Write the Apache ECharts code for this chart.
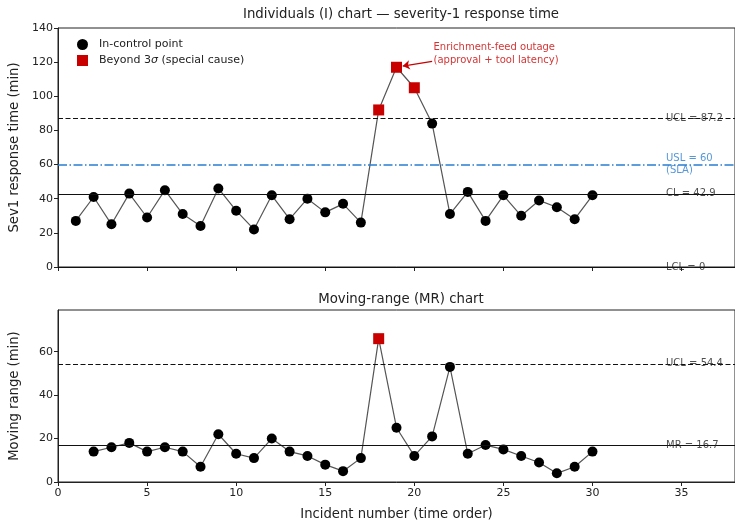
<!DOCTYPE html>
<html>
<head>
<meta charset="utf-8">
<script src="https://cdn.jsdelivr.net/npm/echarts@6/dist/echarts.min.js"></script>
<style>
  html, body { margin: 0; padding: 0; background: #fff; }
  #chart { width: 735px; height: 528px; }
</style>
</head>
<body>
<div id="chart"></div>
<script>
// Incident order and severity-1 response time (minutes)
const incidents = [1,2,3,4,5,6,7,8,9,10,11,12,13,14,15,16,17,18,19,20,21,22,23,24,25,26,27,28,29,30];
const responseTime = [27,41,25,43,29,45,31,24,46,33,22,42,28,40,32,37,26,92,117,105,84,31,44,27,42,30,39,35,28,42];
// Moving range between consecutive incidents (first incident has none)
const mrIncidents = [2,3,4,5,6,7,8,9,10,11,12,13,14,15,16,17,18,19,20,21,22,23,24,25,26,27,28,29,30];
const movingRange = [14,16,18,14,16,14,7,22,13,11,20,14,12,8,5,11,66,25,12,21,53,13,17,15,12,9,4,7,14];
// Points flagged as special cause
const specialI = [18,19,20];
const specialMR = [18];
// Control / spec limits
const iLimits = { UCL: 87.2, CL: 42.9, LCL: 0, USL: 60 };
const mrLimits = { UCL: 54.4, CL: 16.7 };
const xTicks = [0,5,10,15,20,25,30,35];
const iTicks = [0,20,40,60,80,100,120,140];
const mrTicks = [0,20,40,60];

const FONT = 'DejaVu Sans';
const RED = '#c80000';
const BLUE = '#2a7dd1';
const LINE_GRAY = '#555555';
const LABEL_X = 34.1;

const pairs = (xs, ys) => xs.map((x, i) => [x, ys[i]]);
const iPts = pairs(incidents, responseTime);
const mrPts = pairs(mrIncidents, movingRange);
const iIn = iPts.filter(p => !specialI.includes(p[0]));
const iOut = iPts.filter(p => specialI.includes(p[0]));
const mrIn = mrPts.filter(p => !specialMR.includes(p[0]));
const mrOut = mrPts.filter(p => specialMR.includes(p[0]));
const peak = iPts.reduce((a, b) => (b[1] > a[1] ? b : a));

const dashed = [5, 2.5];
const dashDot = [9, 2.5, 1.5, 2.5];

function hLine(y, color, type, width) {
  return { yAxis: y, lineStyle: { color: color, type: type, width: width } };
}

const axisText = { fontFamily: FONT, fontSize: 11, color: '#222' };
const nameText = { fontFamily: FONT, fontSize: 13.2, color: '#222' };
const SPECIAL = 'Beyond 3\u03c3 (special cause)';

const chart = echarts.init(document.getElementById('chart'), null, { renderer: 'canvas' });

chart.setOption({
  animation: false,
  backgroundColor: '#fff',
  title: [
    { text: 'Individuals (I) chart \u2014 severity-1 response time', left: 396, top: 3, textAlign: 'center',
      textStyle: { fontFamily: FONT, fontSize: 13.3, fontWeight: 'normal', color: '#222' } },
    { text: 'Moving-range (MR) chart', left: 396, top: 288, textAlign: 'center',
      textStyle: { fontFamily: FONT, fontSize: 13.3, fontWeight: 'normal', color: '#222' } }
  ],
  legend: {
    left: 72, top: 34, orient: 'vertical', itemGap: 5, itemWidth: 11, itemHeight: 11,
    data: [
      { name: 'In-control point', icon: 'circle' },
      { name: SPECIAL, icon: 'rect' }
    ],
    formatter: name => name === SPECIAL ? 'Beyond 3{i|\u03c3} (special cause)' : name,
    textStyle: {
      fontFamily: FONT, fontSize: 11, color: '#222', padding: [0, 0, 0, 6],
      rich: { i: { fontFamily: FONT, fontSize: 11, fontStyle: 'italic', color: '#222' } }
    }
  },
  grid: [
    { left: 58, top: 28, width: 678, height: 239, show: true, borderColor: '#222', borderWidth: 1 },
    { left: 58, top: 310, width: 678, height: 172, show: true, borderColor: '#222', borderWidth: 1 }
  ],
  xAxis: [0, 1].map(g => ({
    type: 'value', gridIndex: g, min: 0, max: 38, interval: 5,
    name: g === 1 ? 'Incident number (time order)' : '',
    nameLocation: 'middle', nameGap: 26,
    nameTextStyle: nameText,
    axisLine: { show: true, onZero: false, lineStyle: { color: '#222', width: 1 } },
    axisTick: { show: true, length: 4, customValues: xTicks, lineStyle: { color: '#222' } },
    axisLabel: Object.assign({ show: g === 1, margin: 6, customValues: xTicks }, axisText),
    splitLine: { show: false }
  })),
  yAxis: [
    {
      type: 'value', gridIndex: 0, min: 0, max: 140, interval: 20,
      name: 'Sev1 response time (min)', nameLocation: 'middle', nameGap: 37,
      nameTextStyle: nameText,
      axisLine: { show: true, lineStyle: { color: '#222' } },
      axisTick: { show: true, length: 4, customValues: iTicks, lineStyle: { color: '#222' } },
      axisLabel: Object.assign({ margin: 5, customValues: iTicks }, axisText),
      splitLine: { show: false }
    },
    {
      type: 'value', gridIndex: 1, min: 0, max: 79.2,
      name: 'Moving range (min)', nameLocation: 'middle', nameGap: 37,
      nameTextStyle: nameText,
      axisLine: { show: true, lineStyle: { color: '#222' } },
      axisTick: { show: true, length: 4, customValues: mrTicks, lineStyle: { color: '#222' } },
      axisLabel: Object.assign({ margin: 5, customValues: mrTicks }, axisText),
      splitLine: { show: false }
    }
  ],
  series: [
    // Individuals chart: connecting line plus limit lines
    {
      type: 'line', xAxisIndex: 0, yAxisIndex: 0, data: iPts, showSymbol: false, z: 2,
      lineStyle: { color: LINE_GRAY, width: 1.2 },
      markLine: {
        silent: true, symbol: 'none', label: { show: false }, animation: false,
        data: [
          hLine(iLimits.UCL, '#111', dashed, 1.2),
          hLine(iLimits.USL, BLUE, dashDot, 1.5),
          hLine(iLimits.CL, '#111', 'solid', 1.2),
          hLine(iLimits.LCL, '#111', 'solid', 1.2)
        ]
      }
    },
    // Annotation arrow toward the peak point
    {
      type: 'line', xAxisIndex: 0, yAxisIndex: 0, data: [], z: 6,
      markLine: {
        silent: true, symbol: ['none', 'arrow'], symbolSize: 7, label: { show: false }, animation: false,
        lineStyle: { color: RED, width: 1.2, type: 'solid' },
        data: [[{ coord: [peak[0] + 2.0, peak[1] + 3.5] }, { coord: [peak[0] + 0.35, peak[1] + 0.7] }]]
      }
    },
    {
      name: 'In-control point', type: 'scatter', xAxisIndex: 0, yAxisIndex: 0, data: iIn, z: 4,
      symbol: 'circle', symbolSize: 10, itemStyle: { color: '#000', opacity: 1 }
    },
    {
      name: SPECIAL, type: 'scatter', xAxisIndex: 0, yAxisIndex: 0, data: iOut, z: 5,
      symbol: 'rect', symbolSize: 11, itemStyle: { color: RED, opacity: 1 }
    },
    // Text labels for limits and the annotation
    {
      type: 'scatter', xAxisIndex: 0, yAxisIndex: 0, symbolSize: 1, z: 7, silent: true,
      itemStyle: { color: 'rgba(0,0,0,0)' },
      label: {
        show: true, position: 'right', distance: 0, align: 'left', verticalAlign: 'middle',
        fontFamily: FONT, fontSize: 10, color: '#222', lineHeight: 12,
        formatter: p => p.value[2]
      },
      data: [
        [LABEL_X, iLimits.UCL, 'UCL = ' + iLimits.UCL],
        { value: [LABEL_X, iLimits.USL, 'USL = ' + iLimits.USL + '\n(SLA)'], label: { color: BLUE } },
        [LABEL_X, iLimits.CL, 'CL = ' + iLimits.CL],
        [LABEL_X, iLimits.LCL, 'LCL = ' + iLimits.LCL],
        { value: [peak[0] + 2.05, peak[1] + 8, 'Enrichment-feed outage\n(approval + tool latency)'],
          label: { color: RED, lineHeight: 13 } }
      ]
    },
    // Moving-range chart
    {
      type: 'line', xAxisIndex: 1, yAxisIndex: 1, data: mrPts, showSymbol: false, z: 2,
      lineStyle: { color: LINE_GRAY, width: 1.2 },
      markLine: {
        silent: true, symbol: 'none', label: { show: false }, animation: false,
        data: [
          hLine(mrLimits.UCL, '#111', dashed, 1.2),
          hLine(mrLimits.CL, '#111', 'solid', 1.2)
        ]
      }
    },
    {
      name: 'In-control point', type: 'scatter', xAxisIndex: 1, yAxisIndex: 1, data: mrIn, z: 4,
      symbol: 'circle', symbolSize: 10, itemStyle: { color: '#000', opacity: 1 }
    },
    {
      name: SPECIAL, type: 'scatter', xAxisIndex: 1, yAxisIndex: 1, data: mrOut, z: 5,
      symbol: 'rect', symbolSize: 11, itemStyle: { color: RED, opacity: 1 }
    },
    {
      type: 'scatter', xAxisIndex: 1, yAxisIndex: 1, symbolSize: 1, z: 7, silent: true,
      itemStyle: { color: 'rgba(0,0,0,0)' },
      label: {
        show: true, position: 'right', distance: 0, align: 'left', verticalAlign: 'middle',
        fontFamily: FONT, fontSize: 10, color: '#222',
        formatter: p => p.value[2]
      },
      data: [
        [LABEL_X, mrLimits.UCL, 'UCL = ' + mrLimits.UCL],
        [LABEL_X, mrLimits.CL, 'MR = ' + mrLimits.CL]
      ]
    }
  ]
});
</script>
</body>
</html>
